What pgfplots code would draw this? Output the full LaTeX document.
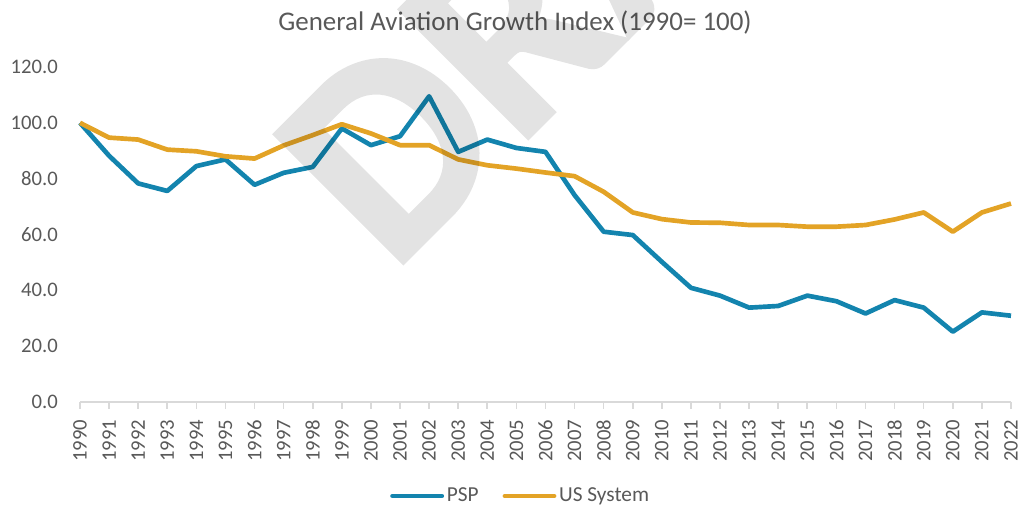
\documentclass[border=0pt]{standalone}
\usepackage{pgfplots}
\pgfplotsset{compat=1.18}
\usepackage{fontspec}
\setmainfont{Carlito}
\newfontfamily\wmfont[FakeBold=1.5]{Carlito Bold}
\definecolor{pspblue}{HTML}{1384AE}
\definecolor{usgold}{HTML}{E3A326}
\definecolor{txtgray}{HTML}{595959}
\definecolor{gridgray}{HTML}{D9D9D9}
\begin{document}
\begin{tikzpicture}
\useasboundingbox (-60pt,-79.5pt) rectangle (710.25pt,301.5pt);
\node[anchor=base, text=txtgray, font=\fontsize{20.2}{22}\selectfont, inner sep=0pt] at (326.25pt,279pt) {General Aviation Growth Index (1990= 100)};
\begin{axis}[
  at={(0pt,0pt)}, anchor=origin,
  scale only axis,
  width=698.25pt, height=251.25pt,
  xmin=1990, xmax=2022, ymin=0, ymax=120,
  xtick={1990,...,2022},
  ytick={0,20,...,120},
  axis x line*=bottom,
  axis y line=none,
  ymajorgrids,
  grid style={gridgray, line width=1.2pt},
  x axis line style={gridgray, line width=1.2pt, -},
  xtick style={gridgray, line width=1.2pt},
  tick align=outside,
  major tick length=5pt,
  xticklabel style={rotate=90, anchor=east, font=\fontsize{15.5}{16}\selectfont, text=txtgray, inner ysep=0pt, inner xsep=8pt},
  xticklabel={\pgfmathprintnumber[1000 sep={}]{\tick}},
  /pgf/number format/assume math mode=true,
  legend style={at={(0.4737,-0.2806)}, anchor=center, draw=none, fill=none,
    font=\fontsize{16}{18}\selectfont, text=txtgray, legend columns=2,
    /tikz/every even column/.append style={column sep=16pt}},
  legend image code/.code={\draw[#1, line width=3.4pt, line cap=round] (0pt,0pt) -- (37pt,0pt);},
  clip=false,
]
\addplot[pspblue, line width=3.5pt, line join=round] coordinates {
(1990,100) (1991,88.2) (1992,78.3) (1993,75.6) (1994,84.5) (1995,86.9) (1996,77.8) (1997,82.1) (1998,84.2) (1999,98.0) (2000,92.0) (2001,95.2) (2002,109.5) (2003,89.6) (2004,94.0) (2005,91.0) (2006,89.6) (2007,74.1) (2008,61.0) (2009,59.8) (2010,50.2) (2011,40.9) (2012,38.1) (2013,33.8) (2014,34.4) (2015,38.1) (2016,36.1) (2017,31.7) (2018,36.5) (2019,33.8) (2020,25.2) (2021,32.1) (2022,30.9)
};
\addlegendentry{PSP}
\addplot[usgold, line width=3.5pt, line join=round] coordinates {
(1990,100) (1991,94.7) (1992,94.0) (1993,90.4) (1994,89.8) (1995,88.0) (1996,87.2) (1997,91.9) (1998,95.6) (1999,99.5) (2000,96.2) (2001,92.0) (2002,92.0) (2003,86.9) (2004,84.8) (2005,83.6) (2006,82.2) (2007,80.9) (2008,75.3) (2009,67.9) (2010,65.5) (2011,64.3) (2012,64.2) (2013,63.4) (2014,63.4) (2015,62.8) (2016,62.8) (2017,63.4) (2018,65.4) (2019,67.9) (2020,61.0) (2021,67.9) (2022,71.1)
};
\addlegendentry{US System}
\end{axis}
\begin{axis}[
  at={(0pt,0pt)}, anchor=origin,
  scale only axis,
  width=698.25pt, height=251.25pt,
  xmin=1990, xmax=2022, ymin=0, ymax=120,
  ytick={0,20,...,120},
  xtick=\empty,
  hide x axis,
  axis y line*=left,
  y axis line style={draw=none},
  ytick style={draw=none},
  yticklabel style={font=\fontsize{15.5}{16}\selectfont, text=txtgray, anchor=east, inner sep=0pt, xshift=-16.5pt,
    /pgf/number format/.cd, fixed, fixed zerofill, precision=1, assume math mode=true},
]
\end{axis}
\begin{scope}[transparency group, opacity=0.11]
\node[anchor=base west, rotate=45, inner sep=0pt, text=black, font=\wmfont\fontsize{210}{210}\selectfont] at (234pt,96pt) {DRAFT};
\end{scope}
\end{tikzpicture}
\end{document}
